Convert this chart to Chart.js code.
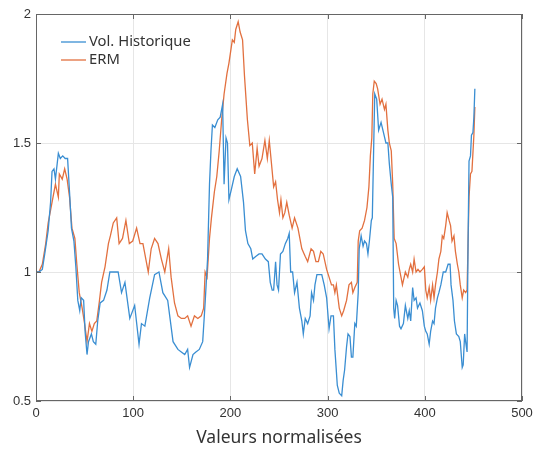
<!DOCTYPE html>
<html>
<head>
<meta charset="utf-8">
<script src="https://cdn.jsdelivr.net/npm/chart.js@4.4.1/dist/chart.umd.min.js"></script>
<style>
  html, body { margin: 0; padding: 0; background: #fff; }
  #chart { display: block; }
</style>
</head>
<body>
<canvas id="chart" width="540" height="450"></canvas>
<script>
// Vol. Historique (blue)
const histX = [1, 3, 6.5, 9, 12.5, 15, 16.5, 18.5, 20, 23, 25, 27.5, 30, 32.5, 34.5, 36.5, 39, 41, 43, 45,
  46.5, 49, 50.5, 52.5, 54, 57, 59, 61.5, 63.5, 66, 69.5, 73, 76, 80, 84.5, 88, 91.5, 96.5, 101.5, 106,
  108.5, 112, 117, 122, 126.5, 130.5, 135.5, 141, 146, 149.5, 153, 156, 158, 161.5, 164.5, 168, 171.5, 174, 176.5, 178.5,
  180, 181.5, 184, 187, 189.5, 192, 193.5, 195.5, 197, 198.5, 201, 204, 207, 210.5, 213.5, 215.5, 218, 221, 223, 226,
  229.5, 232.5, 236, 239, 241, 243, 244.5, 246.5, 248, 249.5, 251.5, 254, 256.5, 259, 260.5, 262, 264, 266, 268.5, 271,
  273.5, 275, 277, 279.5, 282, 283.5, 285.5, 287, 289, 291, 294, 296.5, 299, 301.5, 303.5, 306, 307.5, 310, 312, 314.5,
  316, 317.5, 319.5, 321, 323, 324.5, 326, 328, 329.5, 331.5, 332.5, 334.5, 336.5, 338, 340, 341.5, 343, 345, 346, 347.5,
  348.5, 350.5, 352.5, 355, 357.5, 360, 362, 363.5, 365.5, 367, 368, 369, 370.5, 372, 374, 375.5, 378, 380, 382.5, 384,
  385.5, 387.5, 389, 391, 392.5, 395, 397.5, 399.5, 401, 402.5, 404.5, 406, 408, 409.5, 411, 413, 414.5, 416.5, 419, 421.5,
  424, 426, 427, 429, 430.5, 432.5, 435, 436.5, 438.5, 439.5, 441, 442, 443.5, 444.5, 445.5, 447, 448, 449.5, 450.5, 451.5];
const histY = [1.00, 1.00, 1.01, 1.07, 1.16, 1.27, 1.39, 1.40, 1.36, 1.46, 1.44, 1.45, 1.44, 1.44, 1.31, 1.17, 1.12, 1.02, 0.89, 0.85,
  0.90, 0.89, 0.77, 0.68, 0.73, 0.76, 0.73, 0.72, 0.81, 0.88, 0.89, 0.93, 1.00, 1.00, 1.00, 0.92, 0.96, 0.82, 0.87, 0.72,
  0.80, 0.79, 0.90, 0.99, 1.00, 0.92, 0.89, 0.73, 0.70, 0.69, 0.68, 0.70, 0.63, 0.68, 0.69, 0.70, 0.73, 0.88, 1.05, 1.34,
  1.47, 1.57, 1.56, 1.59, 1.60, 1.65, 1.34, 1.52, 1.50, 1.28, 1.32, 1.37, 1.40, 1.37, 1.27, 1.16, 1.11, 1.09, 1.05, 1.06,
  1.07, 1.07, 1.05, 1.04, 0.96, 0.93, 0.93, 1.04, 0.95, 0.93, 1.07, 1.08, 1.11, 1.13, 1.15, 1.00, 1.00, 0.92, 0.96, 0.86,
  0.81, 0.76, 0.82, 0.80, 0.83, 0.92, 0.89, 0.95, 0.99, 0.99, 0.99, 0.95, 0.90, 0.78, 0.83, 0.83, 0.70, 0.56, 0.53, 0.52,
  0.58, 0.62, 0.71, 0.76, 0.75, 0.67, 0.67, 0.80, 0.79, 0.92, 1.09, 1.14, 1.10, 1.12, 1.11, 1.07, 1.12, 1.20, 1.21, 1.50,
  1.69, 1.67, 1.55, 1.58, 1.54, 1.50, 1.50, 1.42, 1.34, 1.29, 0.86, 0.82, 0.89, 0.87, 0.79, 0.78, 0.80, 0.87, 0.82, 0.85,
  0.81, 0.94, 0.89, 0.90, 0.86, 0.88, 0.85, 0.79, 0.77, 0.76, 0.72, 0.77, 0.81, 0.80, 0.86, 0.90, 0.92, 0.95, 1.00, 1.00,
  1.03, 1.03, 0.95, 0.89, 0.81, 0.76, 0.75, 0.73, 0.63, 0.64, 0.76, 0.73, 0.69, 1.11, 1.43, 1.45, 1.53, 1.54, 1.60, 1.71];

// ERM (orange)
const ermX = [1, 3, 6.5, 10, 12.5, 15, 17.5, 20, 23, 24, 27, 29.5, 32, 34.5, 37, 40, 42, 44.5, 47.5, 50,
  52.5, 55, 57.5, 60, 62.5, 65, 67.5, 71, 74.5, 76.5, 79.5, 83, 85.5, 89, 92.5, 96, 99.5, 103.5, 107, 110,
  115.5, 118.5, 122, 125.5, 129, 132.5, 136.5, 139, 142.5, 146, 149.5, 153, 156, 159.5, 163, 166.5, 170, 172.5, 174, 176,
  178.5, 180.5, 183.5, 186, 188.5, 191, 193.5, 196.5, 198.5, 202, 204, 205.5, 208, 210, 212.5, 214.5, 217.5, 220, 222.5, 225,
  227.5, 229.5, 232.5, 235.5, 238, 240, 242, 244.5, 246.5, 248.5, 250.5, 252, 254, 256, 258, 260.5, 263.5, 266, 269.5, 273.5,
  277, 279.5, 283, 285.5, 288, 290.5, 293, 295.5, 299, 301.5, 304, 306, 307.5, 309, 312, 314.5, 316.5, 319.5, 322, 324.5,
  326, 328, 330.5, 331.5, 333, 335.5, 338, 340.5, 342.5, 344, 345.5, 346.5, 348, 350, 351.5, 354, 356, 358.5, 360, 362,
  363.5, 365.5, 367, 368.5, 370.5, 373, 375.5, 377, 380, 382.5, 384, 385.5, 387.5, 389, 391, 393, 395, 397.5, 399.5, 401,
  402.5, 404.5, 406, 408, 409.5, 411, 413, 414.5, 416.5, 418, 419.5, 421.5, 423, 425, 426.5, 428, 430, 431.5, 433.5, 435,
  436.5, 438.5, 440, 442, 443.5, 444.5, 445.5, 447, 448.5, 450.5, 451.5];
const ermY = [1.00, 1.00, 1.03, 1.11, 1.19, 1.24, 1.29, 1.34, 1.29, 1.38, 1.36, 1.40, 1.36, 1.29, 1.17, 1.13, 1.03, 0.92, 0.86, 0.80,
  0.73, 0.80, 0.77, 0.80, 0.81, 0.88, 0.96, 1.02, 1.11, 1.14, 1.19, 1.21, 1.11, 1.13, 1.20, 1.11, 1.12, 1.17, 1.11, 1.11,
  1.00, 1.09, 1.13, 1.11, 1.05, 1.00, 1.09, 0.98, 0.88, 0.83, 0.82, 0.82, 0.83, 0.79, 0.83, 0.82, 0.83, 0.86, 1.00, 0.98,
  1.13, 1.21, 1.31, 1.37, 1.47, 1.59, 1.69, 1.77, 1.81, 1.90, 1.89, 1.94, 1.97, 1.93, 1.90, 1.76, 1.59, 1.49, 1.50, 1.38,
  1.48, 1.41, 1.44, 1.51, 1.44, 1.51, 1.43, 1.33, 1.35, 1.28, 1.23, 1.28, 1.21, 1.23, 1.27, 1.22, 1.17, 1.21, 1.17, 1.09,
  1.06, 1.04, 1.09, 1.08, 1.04, 1.04, 1.08, 1.07, 1.01, 0.98, 0.95, 0.95, 0.92, 0.95, 0.86, 0.83, 0.85, 0.89, 0.95, 0.96,
  0.92, 0.94, 0.96, 1.12, 1.16, 1.17, 1.20, 1.25, 1.33, 1.45, 1.52, 1.69, 1.74, 1.73, 1.71, 1.65, 1.67, 1.63, 1.65, 1.55,
  1.50, 1.47, 1.34, 1.13, 1.11, 1.03, 0.98, 0.95, 1.00, 0.98, 1.01, 1.03, 1.00, 1.05, 1.00, 1.01, 1.00, 1.01, 1.02, 0.93,
  0.90, 0.94, 0.89, 0.95, 0.90, 0.95, 1.00, 1.05, 1.08, 1.14, 1.13, 1.18, 1.23, 1.20, 1.18, 1.12, 1.14, 1.08, 1.03, 1.00,
  0.95, 0.90, 0.93, 0.92, 0.93, 1.11, 1.29, 1.38, 1.39, 1.53, 1.64];

const seriesNames = ["Vol. Historique", "ERM"];
const seriesColors = ["#3a8ed2", "#e2703f"];
const xTitle = "Valeurs normalisées";

const toPoints = (xs, ys) => xs.map((x, i) => ({ x, y: ys[i] }));

// MATLAB-like frame with inward ticks, plus the in-plot legend
const framePlugin = {
  id: "frame",
  afterDatasetsDraw(chart) {
    const { ctx, chartArea: a, scales } = chart;
    ctx.save();
    ctx.strokeStyle = "#666";
    ctx.lineWidth = 1;
    ctx.strokeRect(a.left + 0.5, a.top + 0.5, a.right - a.left - 1, a.bottom - a.top - 1);
    ctx.beginPath();
    scales.x.ticks.forEach((t) => {
      const px = Math.round(scales.x.getPixelForValue(t.value)) + 0.5;
      ctx.moveTo(px, a.bottom); ctx.lineTo(px, a.bottom - 5);
      ctx.moveTo(px, a.top); ctx.lineTo(px, a.top + 5);
    });
    scales.y.ticks.forEach((t) => {
      const py = Math.round(scales.y.getPixelForValue(t.value)) + 0.5;
      ctx.moveTo(a.left, py); ctx.lineTo(a.left + 5, py);
      ctx.moveTo(a.right, py); ctx.lineTo(a.right - 5, py);
    });
    ctx.stroke();
    ctx.restore();
  },
  afterDraw(chart) {
    const { ctx, chartArea: a } = chart;
    ctx.save();
    ctx.font = "14.8px 'Noto Sans'";
    ctx.textBaseline = "middle";
    chart.data.datasets.forEach((ds, i) => {
      const y = a.top + 28 + i * 18;
      ctx.strokeStyle = ds.borderColor;
      ctx.lineWidth = 1.3;
      ctx.beginPath();
      ctx.moveTo(a.left + 25, y);
      ctx.lineTo(a.left + 50, y);
      ctx.stroke();
      ctx.fillStyle = "#333";
      ctx.fillText(ds.label, a.left + 53, y);
    });
    ctx.restore();
  },
};

new Chart(document.getElementById("chart"), {
  type: "line",
  data: {
    datasets: [
      { label: seriesNames[0], data: toPoints(histX, histY), borderColor: seriesColors[0] },
      { label: seriesNames[1], data: toPoints(ermX, ermY), borderColor: seriesColors[1] },
    ],
  },
  options: {
    responsive: false,
    devicePixelRatio: 1,
    animation: false,
    layout: { padding: { top: 14, right: 18, left: 0, bottom: 0 } },
    elements: {
      point: { radius: 0 },
      line: { borderWidth: 1.3, tension: 0 },
    },
    plugins: { legend: { display: false }, tooltip: { enabled: false } },
    scales: {
      x: {
        type: "linear",
        min: 0,
        max: 500,
        ticks: { stepSize: 100, color: "#333", padding: 5, font: { family: "'Liberation Sans'", size: 13 } },
        grid: { color: "#e6e6e6", drawTicks: false },
        border: { display: false },
        title: {
          display: true,
          text: xTitle,
          color: "#333",
          font: { family: "'Noto Sans'", size: 17.5 },
          padding: { top: 0, bottom: 1 },
        },
        afterFit: (s) => { s.height = 49; },
      },
      y: {
        min: 0.5,
        max: 2,
        ticks: {
          stepSize: 0.5,
          color: "#333",
          padding: 5,
          font: { family: "'Liberation Sans'", size: 13 },
          callback: (v) => String(v),
        },
        grid: { color: "#e6e6e6", drawTicks: false },
        border: { display: false },
        afterFit: (s) => { s.width = 36; },
      },
    },
  },
  plugins: [framePlugin],
});
</script>
</body>
</html>
